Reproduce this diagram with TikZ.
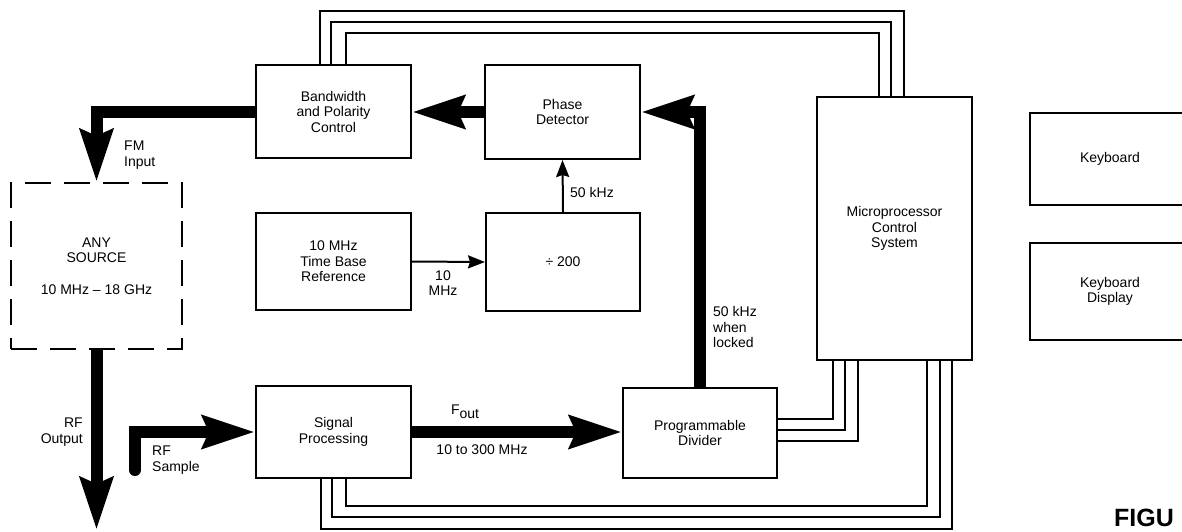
\documentclass[tikz,border=0pt]{standalone}
\usepackage{fontspec}
\setmainfont{Liberation Sans}
\usetikzlibrary{arrows.meta,calc}
\begin{document}
\begin{tikzpicture}[x=1pt,y=-1pt,
  txt/.style={font=\fontsize{14}{15.5}\selectfont, inner sep=0pt, align=center},
  box/.style={draw, line width=2pt, txt},
  srcbox/.style={draw, line width=2pt, dash pattern=on 26pt off 13pt, txt},
  bigarrow/.style={line width=12pt, line join=miter, -{Stealth[length=52pt,width=32pt,inset=6pt]}},
  thinarrow/.style={line width=2pt, -{Stealth[length=17pt,width=13pt,inset=2pt]}},
  bus/.style={line width=2pt, line join=miter},
  lbl/.style={font=\fontsize{14}{15.5}\selectfont, inner sep=0pt}
]
\clip (0,0) rectangle (1182,531);
\fill[white] (0,0) rectangle (1182,531);

% boxes
\node[box, minimum width=155pt, minimum height=93pt] (bw) at (333.5,111.5) {Bandwidth\\and Polarity\\Control};
\node[box, minimum width=155pt, minimum height=94pt] (pd) at (562.5,112) {Phase\\Detector};
\node[box, minimum width=155pt, minimum height=97pt] (tb) at (333.5,261.5) {10 MHz\\Time Base\\Reference};
\node[box, minimum width=154pt, minimum height=98pt] (div) at (563,262) {÷ 200};
\node[srcbox, minimum width=171pt, minimum height=166pt] (src) at (96.5,266) {ANY\\SOURCE\\[16pt]10 MHz -- 18 GHz};
\node[box, minimum width=155pt, minimum height=92pt] (sp) at (333.5,432) {Signal\\Processing};
\node[box, minimum width=154pt, minimum height=90pt] (prog) at (700,433) {Programmable\\Divider};
\node[box, minimum width=155pt, minimum height=263pt] (mcs) at (894.5,228.5) {Microprocessor\\Control\\System};
\node[box, minimum width=160pt, minimum height=92pt, text width=150pt] (kb) at (1110,159) {Keyboard};
\node[box, minimum width=160pt, minimum height=97pt, text width=150pt] (kbd) at (1110,291.5) {Keyboard\\Display};

% free ends
\coordinate (rfout) at (96.5,530);
\coordinate (rfs) at (135,470);

% thick signal arrows
\draw[bigarrow] (pd.west) -- (pd.west -| bw.east);
\draw[bigarrow] (prog.north) |- (pd.east);
\draw[bigarrow] (bw.west) -| (src.north);
\draw[bigarrow] (src.south) -- (rfout);
\draw[bigarrow, line cap=round] (rfs) |- (sp.west);
\draw[bigarrow] (sp.east) -- (sp.east -| prog.west);

% thin arrows
\draw[thinarrow] (div.north) -- (pd.south);
\draw[thinarrow] (tb.east) -- (div.west);

% bus lines top
\draw[bus] ($(bw.north west)+(65,0)$) -- ++(0,-53) -| ($(mcs.north west)+(88,0)$);
\draw[bus] ($(bw.north west)+(76,0)$) -- ++(0,-42) -| ($(mcs.north west)+(75,0)$);
\draw[bus] ($(bw.north west)+(91,0)$) -- ++(0,-31) -| ($(mcs.north west)+(63,0)$);

% bus lines to keyboards
\foreach \d in {55,65,75} {
  \draw[bus] ($(mcs.north east)+(0,\d)$) -- ($(mcs.north east)+(0,\d)$ -| kb.west);
}
\foreach \d in {183,195,205} {
  \draw[bus] ($(mcs.north east)+(0,\d)$) -- ($(mcs.north east)+(0,\d)$ -| kbd.west);
}

% bus lines programmable divider
\draw[bus] ($(prog.north east)+(0,32)$) -| ($(mcs.south west)+(17,0)$);
\draw[bus] ($(prog.north east)+(0,43)$) -| ($(mcs.south west)+(29,0)$);
\draw[bus] ($(prog.north east)+(0,54)$) -| ($(mcs.south west)+(42,0)$);

% bus lines signal processing
\draw[bus] ($(sp.south west)+(66,0)$) -- ++(0,50) -| ($(mcs.south west)+(136,0)$);
\draw[bus] ($(sp.south west)+(77,0)$) -- ++(0,38) -| ($(mcs.south west)+(124,0)$);
\draw[bus] ($(sp.south west)+(91,0)$) -- ++(0,27) -| ($(mcs.south west)+(111,0)$);

% labels
\node[lbl, anchor=west, align=left] (fm) at (124,155) {FM\\Input};
\node[lbl, anchor=east, align=right] (rfo) at (83,432) {RF\\Output};
\node[lbl, anchor=west, align=left] (rfsl) at (152,460) {RF\\Sample};
\node[lbl] (fout) at (465,412) {F\raisebox{-4pt}{out}};
\node[lbl] (range) at (482,450) {10 to 300 MHz};
\node[lbl, align=center] (tenm) at (443,283) {10\\MHz};
\node[lbl, anchor=west] (fifty) at (570,192) {50 kHz};
\node[lbl, anchor=west, align=left] (locked) at (713,327) {50 kHz\\when\\locked};
\node[font=\fontsize{25}{28}\bfseries\selectfont, inner sep=0pt, anchor=base west] (fig) at (1114,526) {FIGU};
\end{tikzpicture}
\end{document}
